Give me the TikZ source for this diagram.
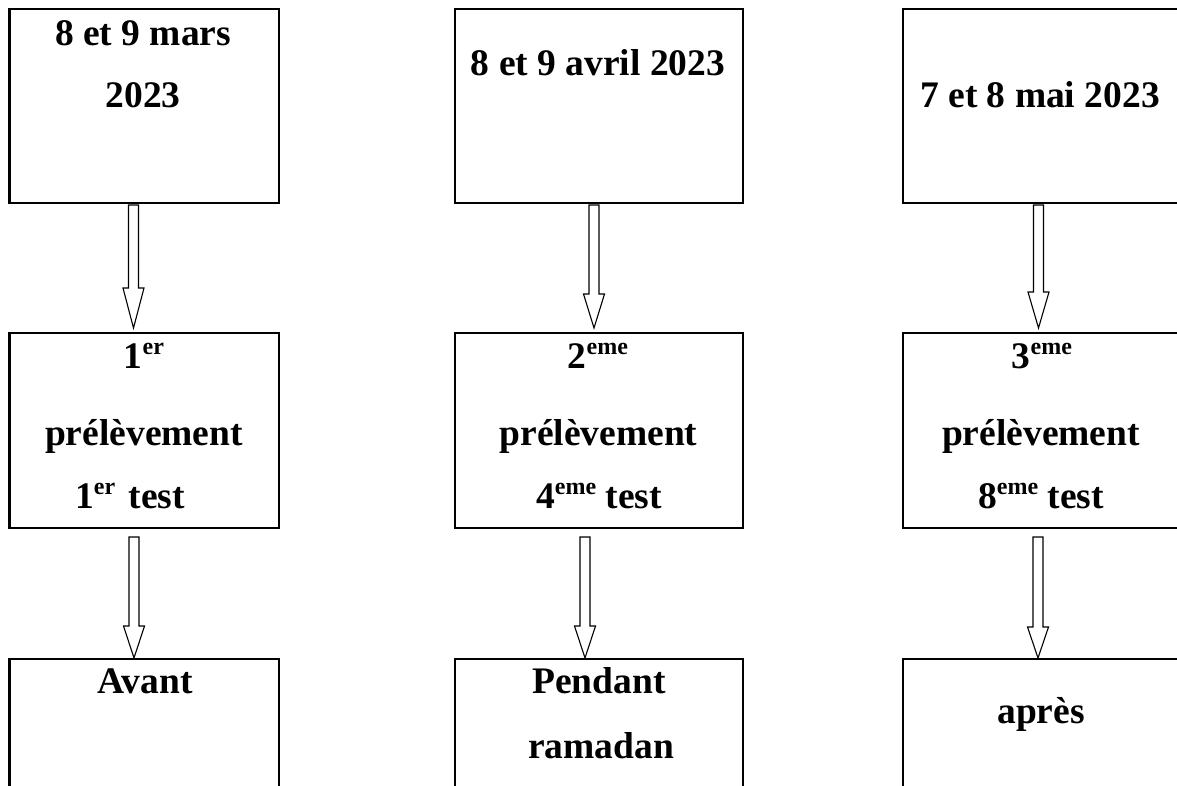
\documentclass[tikz,border=0pt]{standalone}
\usepackage{fontspec}
\setmainfont{Liberation Serif}
\newcommand\sups[1]{\raisebox{14pt}{\fontsize{24}{24}\selectfont\bfseries #1}}
\newcommand\blockarrow[4]{%
  \draw[barrow] (#1-5,#2) -- (#1+5,#2) -- (#1+5,#3) -- (#1+10.5,#3) -- (#1,#4)
    -- (#1-10.5,#3) -- (#1-5,#3) -- cycle;}
\begin{document}
\begin{tikzpicture}[x=1pt,y=-1pt,
  box/.style={draw,line width=2.4pt,inner sep=0pt,fill=none},
  txt/.style={anchor=base,inner sep=0pt,font=\fontsize{37.5}{45}\selectfont\bfseries},
  barrow/.style={draw,line width=1.1pt,fill=white}]
\useasboundingbox (0,0) rectangle (1177,785);
\fill[white] (0,0) rectangle (1177,785);
\begin{scope}
\clip (0,0) rectangle (1177,785);
% top row
\node[box,minimum width=269.5pt,minimum height=194pt] (d1) at (144.25,106) {};
\node[box,minimum width=288pt,minimum height=194pt] (d2) at (599,106) {};
\node[box,minimum width=287pt,minimum height=194pt] (d3) at (1046.5,106) {};
% middle row
\node[box,minimum width=269.5pt,minimum height=195pt] (p1) at (144.25,430.5) {};
\node[box,minimum width=288pt,minimum height=195pt] (p2) at (599,430.5) {};
\node[box,minimum width=287pt,minimum height=195pt] (p3) at (1046.5,430.5) {};
% bottom row
\node[box,minimum width=269.5pt,minimum height=191pt] (r1) at (144.25,754.5) {};
\node[box,minimum width=288pt,minimum height=191pt] (r2) at (599,754.5) {};
\node[box,minimum width=287pt,minimum height=191pt] (r3) at (1046.5,754.5) {};
\end{scope}
% arrows
\blockarrow{133.5}{205}{288}{328}
\blockarrow{594}{205}{294}{328}
\blockarrow{1038.5}{205}{292}{328}
\blockarrow{134}{537}{626}{658}
\blockarrow{585}{537}{626}{658}
\blockarrow{1038}{537}{627}{658}
% texts top
\node[txt] (t1a) at (143,45) {8 et 9 mars};
\node[txt] (t1b) at (143,107) {2023};
\node[txt] (t2a) at (598,75) {8 et 9 avril 2023};
\node[txt] (t3a) at (1040,107) {7 et 8 mai 2023};
% texts middle
\node[txt] (m1a) at (144,368) {1\sups{er}};
\node[txt] (m1b) at (144,445) {prélèvement};
\node[txt] (m1c) at (130,508) {1\sups{er}\hspace{4pt} test};
\node[txt] (m2a) at (598,368) {2\sups{eme}};
\node[txt] (m2b) at (598.5,445) {prélèvement};
\node[txt] (m2c) at (599,508) {4\sups{eme} test};
\node[txt] (m3a) at (1042,368) {3\sups{eme}};
\node[txt] (m3b) at (1041,445) {prélèvement};
\node[txt] (m3c) at (1041,508) {8\sups{eme} test};
% texts bottom
\node[txt] (b1a) at (145,693) {Avant};
\node[txt] (b2a) at (599,693) {Pendant};
\node[txt] (b2b) at (601,758) {ramadan};
\node[txt] (b3a) at (1041,723) {après};
\end{tikzpicture}
\end{document}
